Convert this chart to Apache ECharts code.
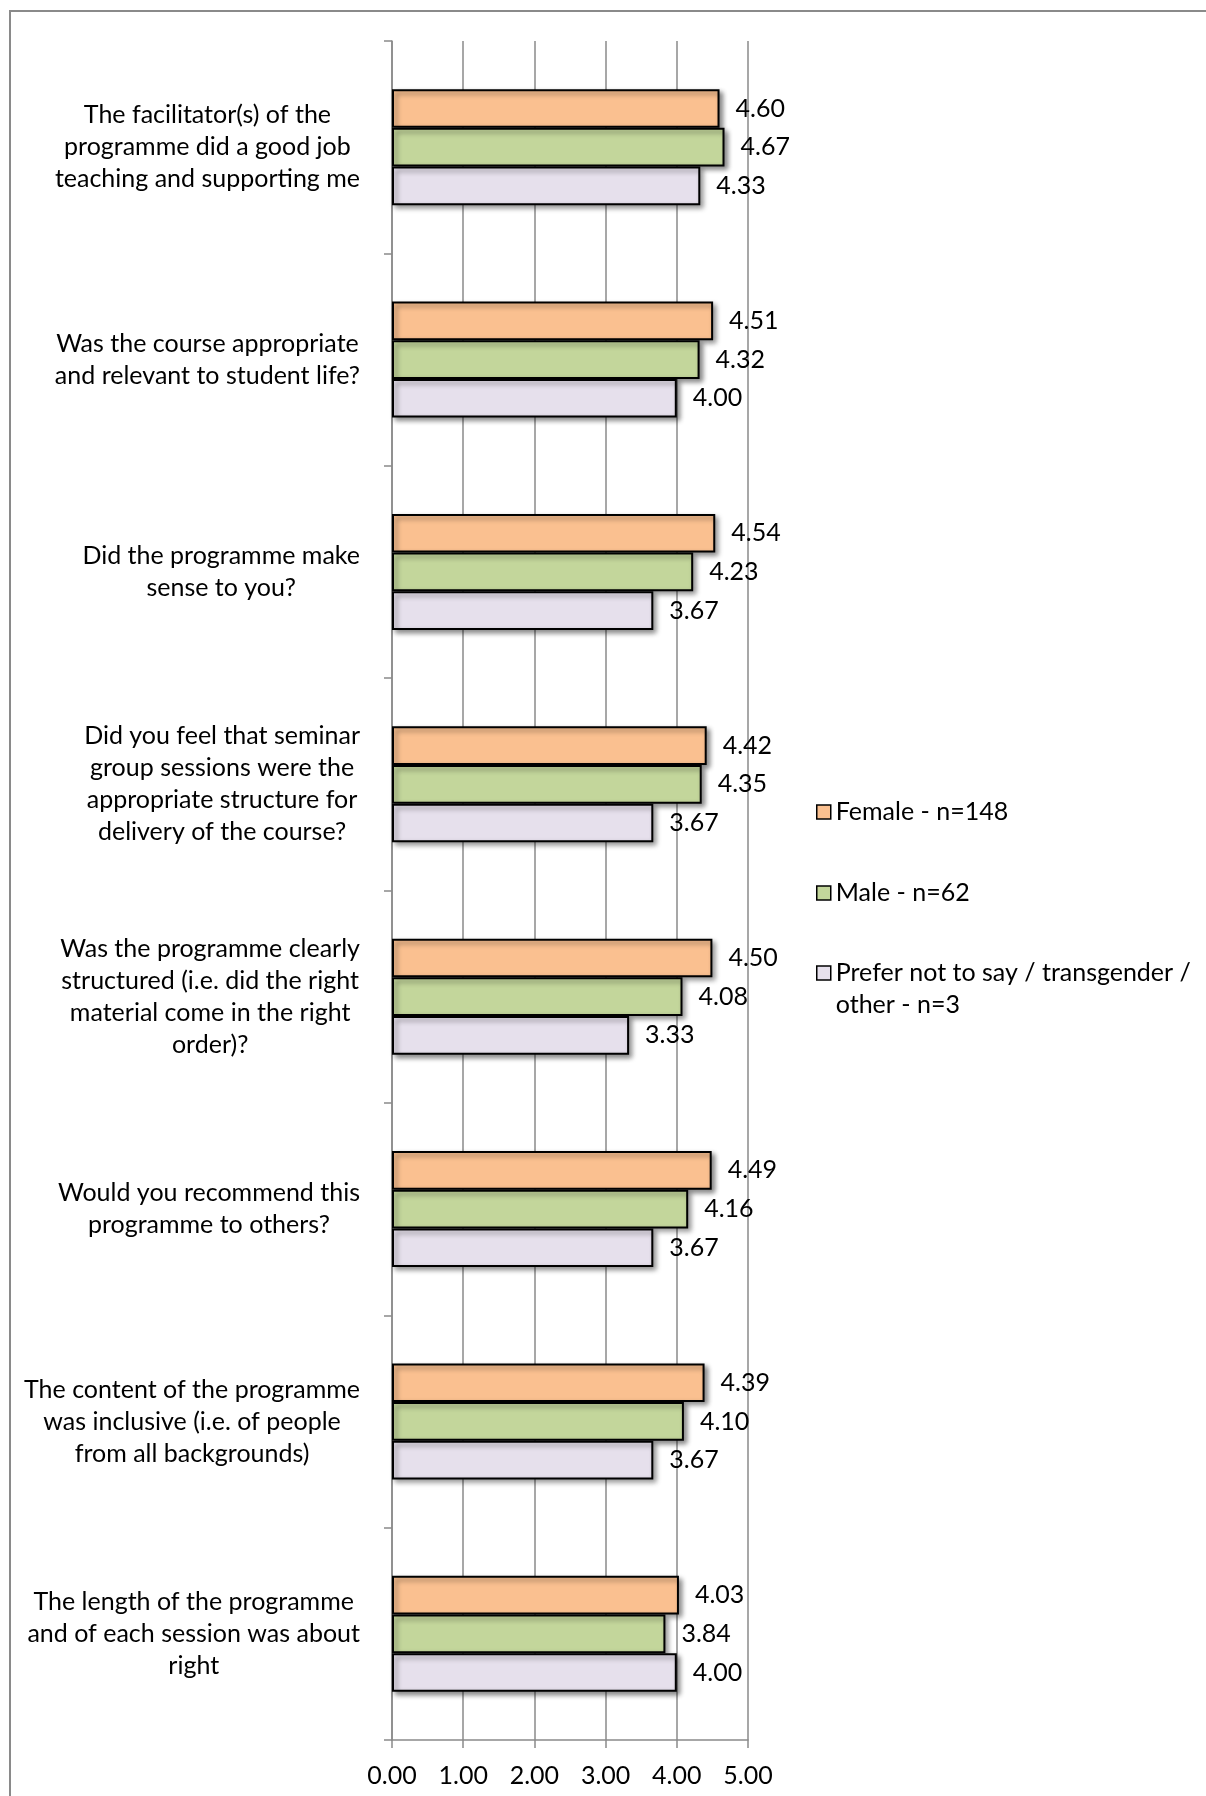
<!DOCTYPE html>
<html><head><meta charset="utf-8">
<script src="https://cdn.jsdelivr.net/npm/echarts@6/dist/echarts.min.js"></script>
<style>html,body{margin:0;padding:0;background:#fff}#c{width:1206px;height:1796px}</style>
</head><body><div id="c"></div>
<script>
const categories = [
  'The facilitator(s) of the\nprogramme did a good job\nteaching and supporting me',
  'Was the course appropriate\nand relevant to student life?',
  'Did the programme make\nsense to you?',
  'Did you feel that seminar\ngroup sessions were the\nappropriate structure for\ndelivery of the course?',
  'Was the programme clearly\nstructured (i.e. did the right\nmaterial come in the right\norder)?',
  'Would you recommend this\nprogramme to others?',
  'The content of the programme\nwas inclusive (i.e. of people\nfrom all backgrounds)',
  'The length of the programme\nand of each session was about\nright'
];
const femaleValues = [4.60, 4.51, 4.54, 4.42, 4.50, 4.49, 4.39, 4.03];
const maleValues   = [4.67, 4.32, 4.23, 4.35, 4.08, 4.16, 4.10, 3.84];
const otherValues  = [4.33, 4.00, 3.67, 3.67, 3.33, 3.67, 3.67, 4.00];
const seriesNames = ['Female - n=148', 'Male - n=62', 'Prefer not to say / transgender / other - n=3'];
const seriesColors = ['#FAC090', '#C3D69B', '#E6E0EC'];
const xTickLabels = ['0.00', '1.00', '2.00', '3.00', '4.00', '5.00'];

const FONT = 'Lato';
const FS = 25;
const gridColor = '#8a8a8a';

const chart = echarts.init(document.getElementById('c'), null, {renderer: 'canvas'});

function makeSeries(name, values, color) {
  return {
    name: name,
    type: 'bar',
    data: values,
    barGap: '0%',
    barCategoryGap: '45.4%',
    itemStyle: {
      color: color,
      borderColor: '#000',
      borderWidth: 2,
      shadowColor: 'rgba(0,0,0,0.45)',
      shadowBlur: 5,
      shadowOffsetX: 3,
      shadowOffsetY: 3
    },
    label: {
      show: true,
      position: 'right',
      distance: 16,
      formatter: p => p.value.toFixed(2),
      fontFamily: FONT,
      fontSize: FS,
      color: '#000'
    },
    emphasis: {disabled: true},
    animation: false
  };
}

const legendBase = {
  orient: 'vertical',
  left: 816,
  padding: 0,
  itemWidth: 14,
  itemHeight: 14,
  icon: 'rect',
  selectedMode: false,
  itemStyle: {borderColor: '#000', borderWidth: 1.5},
  textStyle: {fontFamily: FONT, fontSize: FS, lineHeight: 32, color: '#000'}
};

chart.setOption({
  backgroundColor: '#fff',
  animation: false,
  textStyle: {fontFamily: FONT},
  graphic: [{
    type: 'rect',
    shape: {x: 10, y: 11, width: 1400, height: 2000},
    style: {fill: 'none', stroke: gridColor, lineWidth: 2},
    silent: true,
    z: -10
  }],
  grid: {left: 392, top: 41, width: 356, bottom: 56, containLabel: false},
  xAxis: {
    type: 'value',
    min: 0, max: 5, interval: 1,
    axisLine: {show: true, lineStyle: {color: gridColor, width: 1.5}},
    axisTick: {show: true, length: 8, lineStyle: {color: gridColor, width: 1.5}},
    splitLine: {show: true, lineStyle: {color: gridColor, width: 1.5}},
    axisLabel: {
      formatter: v => xTickLabels[Math.round(v)],
      fontFamily: FONT, fontSize: FS, color: '#000', margin: 23
    }
  },
  yAxis: {
    type: 'category',
    inverse: true,
    data: categories,
    axisLine: {show: true, lineStyle: {color: gridColor, width: 1.5}},
    axisTick: {show: true, length: 8, alignWithLabel: false, lineStyle: {color: gridColor, width: 1.5}},
    axisLabel: {
      margin: 32,
      align: 'right',
      formatter: v => v.split('\n').map(l => '{c|' + l + '}').join('\n'),
      rich: {c: {align: 'center', fontFamily: FONT, fontSize: FS, lineHeight: 32, color: '#000'}}
    }
  },
  legend: [
    Object.assign({}, legendBase, {
      top: 796,
      itemGap: 49,
      data: [seriesNames[0], seriesNames[1]]
    }),
    Object.assign({}, legendBase, {
      top: 925,
      data: [seriesNames[2]],
      formatter: n => '{e| }\n{a|' + n.replace(' / other', ' /}\n{a|other') + '}',
      textStyle: {
        fontFamily: FONT, fontSize: FS, lineHeight: 32, color: '#000',
        rich: {
          e: {fontFamily: FONT, fontSize: FS, lineHeight: 32},
          a: {fontFamily: FONT, fontSize: FS, lineHeight: 32, color: '#000'}
        }
      }
    })
  ],
  series: [
    makeSeries(seriesNames[0], femaleValues, seriesColors[0]),
    makeSeries(seriesNames[1], maleValues, seriesColors[1]),
    makeSeries(seriesNames[2], otherValues, seriesColors[2])
  ]
});
</script>
</body></html>
